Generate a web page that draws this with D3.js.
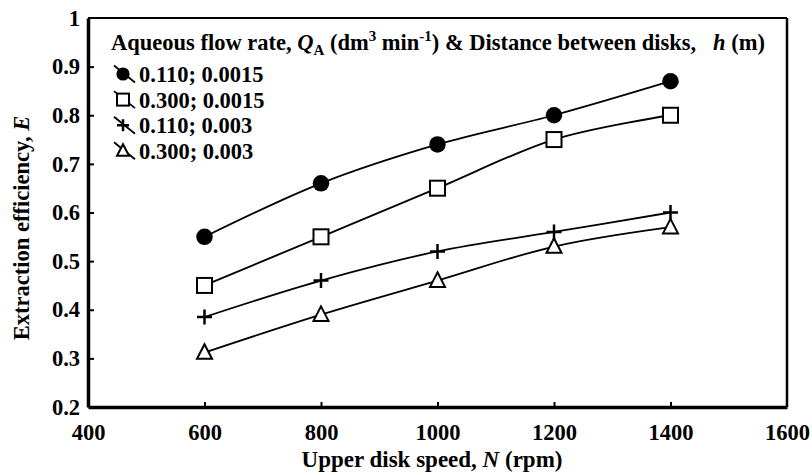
<!DOCTYPE html>
<html><head><meta charset="utf-8">
<script src="https://cdn.jsdelivr.net/npm/d3@7"></script>
<style>body{margin:0;background:#fff}svg{display:block}text{font-family:"Liberation Serif","Times New Roman",serif;font-weight:bold;fill:#000}</style>
</head><body><svg id="c" width="812" height="475"></svg>
<script>
const speeds = [600, 800, 1000, 1200, 1400];
const seriesNames = ["0.110; 0.0015", "0.300; 0.0015", "0.110; 0.003", "0.300; 0.003"];
const seriesMarkers = ["circle", "square", "plus", "triangle"];
const effCircle = [0.55, 0.66, 0.74, 0.80, 0.87];
const effSquare = [0.45, 0.55, 0.65, 0.75, 0.80];
const effPlus = [0.385, 0.46, 0.52, 0.56, 0.60];
const effTriangle = [0.312, 0.39, 0.46, 0.53, 0.57];
const xTicks = [400, 600, 800, 1000, 1200, 1400, 1600];
const yTicks = [0.2, 0.3, 0.4, 0.5, 0.6, 0.7, 0.8, 0.9, 1];

const seriesValues = [effCircle, effSquare, effPlus, effTriangle];
const svg = d3.select("#c");
const L = 88, R = 787, T = 18, B = 407;
const FS = "22.5px";
const x = d3.scaleLinear().domain([400, 1600]).range([L, R]);
const y = d3.scaleLinear().domain([0.2, 1]).range([B, T]);

// frame top/right
svg.append("line").attr("x1", L).attr("x2", R).attr("y1", T).attr("y2", T).attr("stroke", "#000").attr("stroke-width", 2);
svg.append("line").attr("x1", R).attr("x2", R).attr("y1", T).attr("y2", B).attr("stroke", "#000").attr("stroke-width", 2.5);

// axes
const xAxis = d3.axisBottom(x).tickValues(xTicks).tickSizeInner(-5).tickSizeOuter(0).tickPadding(17).tickFormat(d3.format("d"));
const gx = svg.append("g").attr("transform", `translate(0,${B})`).call(xAxis);
const yAxis = d3.axisLeft(y).tickValues(yTicks).tickSizeInner(-6).tickSizeOuter(0).tickPadding(8).tickFormat(d => d === 1 ? "1" : d3.format(".1f")(d));
const gy = svg.append("g").attr("transform", `translate(${L},0)`).call(yAxis);
[gx, gy].forEach(g => {
  g.select(".domain").attr("stroke-width", 3.5);
  g.selectAll(".tick line").attr("stroke-width", 2);
  g.selectAll(".tick text").style("font-size", FS).style("font-family", "Liberation Serif").style("font-weight", "bold");
});
gx.selectAll(".tick line").filter(d => d === 400 || d === 1600).remove();
gy.selectAll(".tick line").filter(d => d === 0.2 || d === 1).remove();

// axis titles
const xt = svg.append("text").attr("x", 432).attr("y", 467).attr("text-anchor", "middle").style("font-size", "23px");
xt.append("tspan").text("Upper disk speed, ");
xt.append("tspan").attr("font-style", "italic").text("N");
xt.append("tspan").text(" (rpm)");
const yt = svg.append("text").attr("transform", "translate(29,228) rotate(-90)").attr("text-anchor", "middle").style("font-size", "22.5px");
yt.append("tspan").text("Extraction efficiency, ");
yt.append("tspan").attr("font-style", "italic").text("E");

// lines
const line = d3.line().x((d, i) => x(speeds[i])).y(d => y(d)).curve(d3.curveCatmullRom.alpha(0));
seriesValues.forEach(vals => {
  svg.append("path").attr("d", line(vals)).attr("fill", "none").attr("stroke", "#000").attr("stroke-width", 1.8);
});

function marker(g, type, cx, cy, s) {
  if (type === "circle") g.append("circle").attr("cx", cx).attr("cy", cy).attr("r", s * 0.55).attr("fill", "#000");
  else if (type === "square") g.append("rect").attr("x", cx - s / 2).attr("y", cy - s / 2).attr("width", s).attr("height", s).attr("fill", "#fff").attr("stroke", "#000").attr("stroke-width", 2);
  else if (type === "plus") g.append("path").attr("d", `M${cx - s / 2},${cy}H${cx + s / 2}M${cx},${cy - s / 2}V${cy + s / 2}`).attr("stroke", "#000").attr("stroke-width", 2.5);
  else if (type === "triangle") g.append("path").attr("d", `M${cx},${cy - s * 0.55}L${cx + s / 2},${cy + s * 0.42}L${cx - s / 2},${cy + s * 0.42}Z`).attr("fill", "#fff").attr("stroke", "#000").attr("stroke-width", 2);
}
seriesValues.forEach((vals, k) => {
  const g = svg.append("g");
  vals.forEach((v, i) => marker(g, seriesMarkers[k], x(speeds[i]), y(v), 15));
});

// legend
const lt = svg.append("text").attr("x", 111).attr("y", 50).style("font-size", FS);
lt.append("tspan").text("Aqueous flow rate, ");
lt.append("tspan").attr("font-style", "italic").text("Q");
lt.append("tspan").attr("dy", 5).style("font-size", "15px").text("A");
lt.append("tspan").attr("dy", -5).text(" (dm");
lt.append("tspan").attr("dy", -9).style("font-size", "15px").text("3");
lt.append("tspan").attr("dy", 9).text(" min");
lt.append("tspan").attr("dy", -9).style("font-size", "15px").text("-1");
lt.append("tspan").attr("dy", 9).text(") & Distance between disks,\u00a0\u00a0 ");
lt.append("tspan").attr("font-style", "italic").text("h");
lt.append("tspan").text(" (m)");

seriesNames.forEach((name, k) => {
  const base = 82 + k * 25.6;
  const cy = base - 8;
  const g = svg.append("g");
  g.append("line").attr("x1", 114).attr("y1", cy - 8.5).attr("x2", 135).attr("y2", cy + 8.5).attr("stroke", "#000").attr("stroke-width", 1.8);
  marker(g, seriesMarkers[k], 123, cy, 12);
  svg.append("text").attr("x", 139).attr("y", base).style("font-size", FS).text(name);
});
</script></body></html>
